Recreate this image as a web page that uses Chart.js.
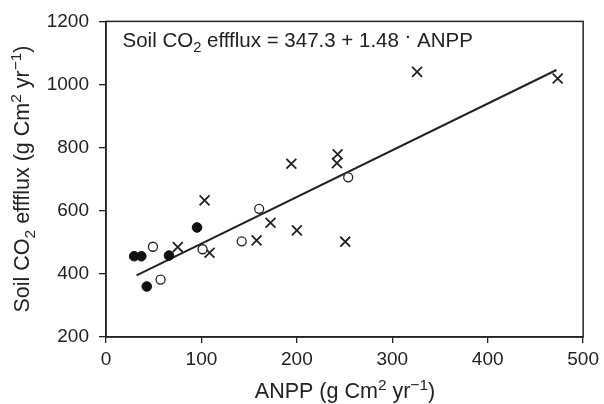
<!DOCTYPE html>
<html>
<head>
<meta charset="utf-8">
<script src="https://cdn.jsdelivr.net/npm/chart.js@4/dist/chart.umd.min.js"></script>
<style>
html,body{margin:0;padding:0;background:#fff;}
#wrap{width:604px;height:404px;position:relative;}
</style>
</head>
<body>
<div id="wrap"><canvas id="c" width="604" height="404"></canvas></div>
<script>
// ---- data ----
const filledX = [29.5, 37.0, 42.7, 66.0, 95.4];
const filledY = [456, 456, 360, 458, 547];
const openX = [49.2, 57.2, 101.2, 142.2, 160.5, 253.8];
const openY = [486, 382, 478, 503, 606, 706];
const crossX = [75.2, 103.3, 108.5, 157.8, 172.4, 194.2, 200.0, 242.0, 242.7, 250.7, 326.0, 473.3];
const crossY = [485, 633, 467, 506, 562, 749, 538, 751, 779, 502, 1040, 1019];
const fitX = [32, 472];
const fitY = [395, 1046];
const xTickValues = [0, 100, 200, 300, 400, 500];
const yTickValues = [200, 400, 600, 800, 1000, 1200];
const equationText = [
  {t: 'Soil CO'}, {t: '2', sub: true}, {t: ' effflux = 347.3 + 1.48 '}, {t: '\u00B7', dot: true}, {t: ' ANPP'}
];
const xTitle = [{t: 'ANPP (g Cm'}, {t: '2', sup: true}, {t: ' yr'}, {t: '\u22121', sup: true}, {t: ')'}];
const yTitle = [{t: 'Soil CO'}, {t: '2', sub: true}, {t: ' effflux (g Cm'}, {t: '2', sup: true}, {t: ' yr'}, {t: '\u22121', sup: true}, {t: ')'}];

const FONT = '"Liberation Sans", Arial, Helvetica, sans-serif';
const INK = '#222';

function pts(xs, ys) { return xs.map((x, i) => ({x: x, y: ys[i]})); }

function richWidth(ctx, parts, size) {
  let w = 0;
  parts.forEach(p => {
    const s = (p.sub || p.sup) ? size * 0.72 : size;
    ctx.font = s + 'px ' + FONT;
    w += ctx.measureText(p.t).width;
  });
  return w;
}
function drawRich(ctx, parts, x, y, size) {
  parts.forEach(p => {
    const s = (p.sub || p.sup) ? size * 0.72 : size;
    ctx.font = s + 'px ' + FONT;
    let dy = 0;
    if (p.sub) dy = size * 0.28;
    if (p.sup) dy = -size * 0.36;
    if (p.dot) dy = -size * 0.22;
    ctx.fillText(p.t, x, y + dy);
    x += ctx.measureText(p.t).width;
  });
}

const decor = {
  id: 'decor',
  afterDraw(chart) {
    const ctx = chart.ctx;
    const a = chart.chartArea;
    ctx.save();
    ctx.strokeStyle = INK;
    ctx.lineWidth = 1.5;
    ctx.strokeRect(a.left, a.top, a.right - a.left, a.bottom - a.top);
    ctx.fillStyle = INK;
    ctx.textBaseline = 'alphabetic';
    ctx.textAlign = 'left';
    // equation
    drawRich(ctx, equationText, 122.5, 46.5, 20.5);
    // x title
    const xs = 21.5;
    const xw = richWidth(ctx, xTitle, xs);
    drawRich(ctx, xTitle, 345 - xw / 2, 398, xs);
    // y title
    const yw = richWidth(ctx, yTitle, xs);
    ctx.translate(29, 179);
    ctx.rotate(-Math.PI / 2);
    drawRich(ctx, yTitle, -yw / 2, 0, xs);
    ctx.restore();
  }
};

new Chart(document.getElementById('c'), {
  type: 'scatter',
  data: {
    datasets: [
      {
        label: 'fit', type: 'line', data: pts(fitX, fitY), showLine: true,
        borderColor: INK, borderWidth: 2, pointRadius: 0, fill: false, order: 4
      },
      {
        label: 'filled', data: pts(filledX, filledY), pointStyle: 'circle',
        pointRadius: 4.8, pointBackgroundColor: '#111', pointBorderColor: '#111', pointBorderWidth: 1, order: 1
      },
      {
        label: 'open', data: pts(openX, openY), pointStyle: 'circle',
        pointRadius: 4.5, pointBackgroundColor: '#fff', pointBorderColor: INK, pointBorderWidth: 1.3, order: 2
      },
      {
        label: 'cross', data: pts(crossX, crossY), pointStyle: 'crossRot',
        pointRadius: 7, pointBorderColor: INK, pointBorderWidth: 1.8, order: 3
      }
    ]
  },
  options: {
    responsive: false,
    animation: false,
    devicePixelRatio: 1,
    layout: {padding: {top: 21, right: 18, left: 0, bottom: 0}},
    plugins: {legend: {display: false}, tooltip: {enabled: false}},
    scales: {
      x: {
        type: 'linear', min: 0, max: 500,
        afterBuildTicks: s => { s.ticks = xTickValues.map(v => ({value: v})); },
        afterFit: s => { s.height = 67; },
        ticks: {font: {family: FONT, size: 19}, color: INK, padding: 5, maxRotation: 0, callback: v => String(v)},
        grid: {display: true, drawOnChartArea: false, drawTicks: true, tickLength: 6, color: INK, lineWidth: 1.3},
        border: {display: true, color: INK, width: 1.5}
      },
      y: {
        type: 'linear', min: 200, max: 1200,
        afterBuildTicks: s => { s.ticks = yTickValues.map(v => ({value: v})); },
        afterFit: s => { s.width = 106; },
        ticks: {font: {family: FONT, size: 19}, color: INK, padding: 10, callback: v => String(v)},
        grid: {display: true, drawOnChartArea: false, drawTicks: true, tickLength: 7, color: INK, lineWidth: 1.3},
        border: {display: true, color: INK, width: 1.5}
      }
    }
  },
  plugins: [decor]
});
</script>
</body>
</html>
